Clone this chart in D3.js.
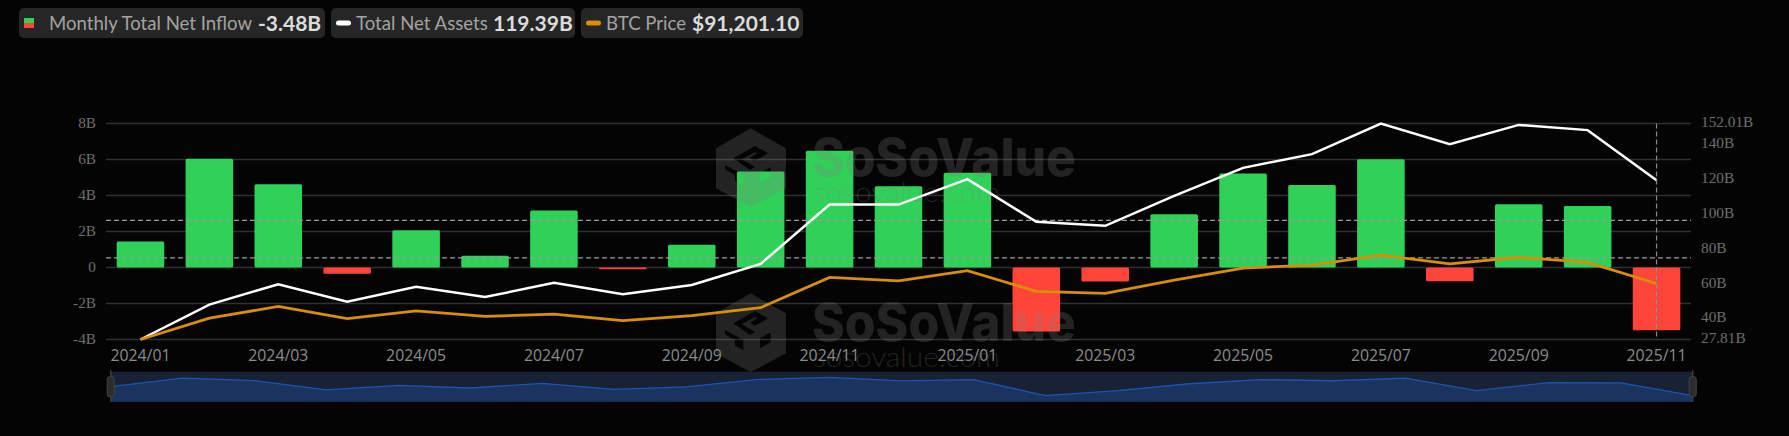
<!DOCTYPE html>
<html lang="en">
<head>
<meta charset="utf-8">
<title>Monthly Total Net Inflow</title>
<style>
html, body { margin:0; padding:0; background:#040404; overflow:hidden; }
svg { display:block; }
.legend-label { font-family:Lato, sans-serif; font-size:18.6px; fill:#a3a3a3; }
.legend-value { font-family:Lato, sans-serif; font-size:21px; font-weight:700; fill:#dcdcdc; }
.tick-label { font-family:"Liberation Serif", serif; font-size:15.3px; fill:#6f6f6f; }
.x-label { font-family:"Open Sans", sans-serif; font-size:15.8px; fill:#8c8c8c; }
</style>
</head>
<body>
<script src="https://cdn.jsdelivr.net/npm/d3@7"></script>
<script>
var w = 1789;
var h = 436;

var months = ["2024/01","2024/02","2024/03","2024/04","2024/05","2024/06","2024/07","2024/08","2024/09","2024/10","2024/11","2024/12",
  "2025/01","2025/02","2025/03","2025/04","2025/05","2025/06","2025/07","2025/08","2025/09","2025/10","2025/11"];
var inflow = [1.44,6.04,4.63,-0.35,2.07,0.65,3.17,-0.1,1.26,5.33,6.48,4.52,5.26,-3.56,-0.78,2.96,5.22,4.59,6.02,-0.76,3.52,3.41,-3.48];
var assets = [27.81,47.9,59.6,49.5,58.1,52.2,60.4,53.9,59.2,71.3,105.4,105.4,120,95.5,93.2,110.4,126.5,134.4,152.01,140.1,151.2,148.2,119.39];
var btc = [42580,61130,71280,60640,67490,62680,64620,58970,63330,70220,96450,93430,102400,84350,82550,94200,104600,107100,115750,108200,114000,109500,91201];

var leftTicks = [-4,-2,0,2,4,6,8];
var rightTicks = [27.81,40,60,80,100,120,140,152.01];
var xTicks = months.filter(function(d,i){return i % 2 == 0;});
var dashedLevels = [2.62,0.53]; //horizontal dashed lines, in left axis units

var legendItems = [
  {x:19, w:306, key:"bar", label:"Monthly Total Net Inflow", value:"-3.48B", vx:239},
  {x:331, w:244, key:"#ffffff", label:"Total Net Assets", value:"119.39B", vx:162},
  {x:581, w:222, key:"#d98e04", label:"BTC Price", value:"$91,201.10", vx:111}
];

var px1 = 106, px2 = 1691; //plot left, right
var py1 = 123.5, py2 = 339.5; //plot top, bottom

var x = d3.scaleBand().domain(months).range([px1,px2]).paddingInner(0.31).paddingOuter(0.155);
var xc = function(d){return x(d) + x.bandwidth() / 2;};
var yLeft = d3.scaleLinear().domain([-4,8]).range([py2,py1]);
var yRight = d3.scaleLinear().domain([27.81,152.01]).range([py2,py1]);
var yBtc = d3.scaleLinear().domain([42580,230100]).range([py2,py1]);

var svg = d3.select("body").append("svg").attr("width",w).attr("height",h);

// legend
var lg = svg.append("g");
legendItems.forEach(function(d){
  var g = lg.append("g").attr("transform","translate(" + d.x + ",8)");
  g.append("rect").attr("width",d.w).attr("height",30).attr("rx",5).attr("fill","#262626");
  var tx;
  if(d.key == "bar"){
    g.append("rect").attr("x",5).attr("y",10).attr("width",10).attr("height",5).attr("fill","#30d158");
    g.append("rect").attr("x",5).attr("y",15).attr("width",10).attr("height",5).attr("fill","#ff453a");
    tx = 30;
  }else{
    g.append("rect").attr("x",5).attr("y",12.5).attr("width",15).attr("height",5).attr("rx",2.5).attr("fill",d.key);
    tx = 25;
  }
  g.append("text").attr("class","legend-label").attr("x",tx).attr("y",21.5).text(d.label);
  g.append("text").attr("class","legend-value").attr("x",d.vx).attr("y",22.5).text(d.value);
});

// grid
var grid = svg.append("g").attr("stroke","#303030").attr("stroke-width",1.3);
grid.selectAll("line").data(leftTicks).enter().append("line")
  .attr("x1",px1).attr("x2",px2)
  .attr("y1",function(d){return yLeft(d);})
  .attr("y2",function(d){return yLeft(d);});

// axis labels
svg.append("g").selectAll("text").data(leftTicks).enter().append("text")
  .attr("class","tick-label")
  .attr("x",96).attr("y",function(d){return yLeft(d) + 4;})
  .attr("text-anchor","end")
  .text(function(d){return d == 0 ? "0" : d + "B";});

svg.append("g").selectAll("text").data(rightTicks).enter().append("text")
  .attr("class","tick-label")
  .attr("x",1701).attr("y",function(d){return yRight(d) + (d == 152.01 ? 3 : d == 27.81 ? 3 : 4);})
  .text(function(d){return d + "B";});

svg.append("g").selectAll("text").data(xTicks).enter().append("text")
  .attr("class","x-label")
  .attr("x",xc).attr("y",361)
  .attr("text-anchor","middle")
  .text(function(d){return d;});

// bars
svg.append("g").selectAll("rect").data(months).enter().append("rect")
  .attr("x",function(d){return x(d);})
  .attr("width",x.bandwidth())
  .attr("y",function(d,i){return Math.min(yLeft(0),yLeft(inflow[i]));})
  .attr("height",function(d,i){return Math.abs(yLeft(inflow[i]) - yLeft(0));})
  .attr("rx",1.5)
  .attr("fill",function(d,i){return inflow[i] >= 0 ? "#30d158" : "#ff453a";});

// watermark, one above the other
function watermark(dy){
  var g = svg.append("g").attr("transform","translate(0," + dy + ")").attr("fill","rgba(128,128,128,0.25)");
  g.append("path")
    .attr("transform","translate(700,120) scale(0.3333)")
    .attr("fill-rule","evenodd")
    .attr("d","M152 25 L258 85 L258 205 L152 262 L48 205 L48 85 Z"
      + " M100 115 L165 78 L205 100 L165 122 L150 113 L172 100 L165 96 L125 118 L165 140 L150 150 Z"
      + " M75 135 L130 165 L130 195 L105 182 L105 165 L75 148 Z"
      + " M180 160 L212 142 L212 172 L180 190 Z");
  g.append("text").attr("x",812).attr("y",176).attr("font-family","Inter, sans-serif").attr("font-weight",800)
    .attr("font-size",52).attr("textLength",264).attr("lengthAdjust","spacingAndGlyphs").text("SoSoValue");
  g.append("text").attr("x",813).attr("y",202).attr("font-family","Lato, sans-serif").attr("font-weight",300)
    .attr("font-size",27).attr("textLength",187).attr("lengthAdjust","spacingAndGlyphs").text("sosovalue.com");
}
watermark(0);
watermark(165);

// dashed reference lines
svg.append("g").selectAll("line").data(dashedLevels).enter().append("line")
  .attr("x1",px1).attr("x2",px2)
  .attr("y1",function(d){return yLeft(d);})
  .attr("y2",function(d){return yLeft(d);})
  .attr("stroke","#9a9a9a").attr("stroke-width",1.2).attr("stroke-dasharray","5 3");

// lines
var lineAssets = d3.line().x(xc).y(function(d,i){return yRight(assets[i]);});
var lineBtc = d3.line().x(xc).y(function(d,i){return yBtc(btc[i]);});
svg.append("path").attr("d",lineAssets(months)).attr("fill","none").attr("stroke","#ffffff").attr("stroke-width",2.5);
svg.append("path").attr("d",lineBtc(months)).attr("fill","none").attr("stroke","#d98e04").attr("stroke-width",2.8);

// crosshair on last month
svg.append("line")
  .attr("x1",xc(months[22])).attr("x2",xc(months[22]))
  .attr("y1",py1).attr("y2",py2)
  .attr("stroke","#8c8c8c").attr("stroke-width",1.2).attr("stroke-dasharray","5 3");

// navigator
var nx1 = 110.7, nx2 = 1692.7, ny1 = 371.7, ny2 = 401.7;
var xNav = d3.scalePoint().domain(months).range([nx1,nx2]);
var yNav = d3.scaleLinear().domain([-3.56,6.48]).range([395.7,377.3]);
svg.append("rect").attr("x",nx1).attr("y",ny1).attr("width",nx2 - nx1).attr("height",ny2 - ny1).attr("fill","#182234");
svg.append("path")
  .attr("d",d3.area().x(function(d){return xNav(d);}).y0(ny2).y1(function(d,i){return yNav(inflow[i]);})(months))
  .attr("fill","#1a335f");
svg.append("path")
  .attr("d",d3.line().x(function(d){return xNav(d);}).y(function(d,i){return yNav(inflow[i]);})(months))
  .attr("fill","none").attr("stroke","#1c55b0").attr("stroke-width",1.3);
[nx1,nx2].forEach(function(nx){
  svg.append("line").attr("x1",nx).attr("x2",nx).attr("y1",ny1 - 1.5).attr("y2",ny2).attr("stroke","#3c3c3c").attr("stroke-width",1.5);
  svg.append("rect").attr("x",nx - 3.5).attr("y",ny1 + 5).attr("width",7).attr("height",20).attr("rx",2.5)
    .attr("fill","#2c2c2c").attr("stroke","#444").attr("stroke-width",1);
});
</script>
</body>
</html>
